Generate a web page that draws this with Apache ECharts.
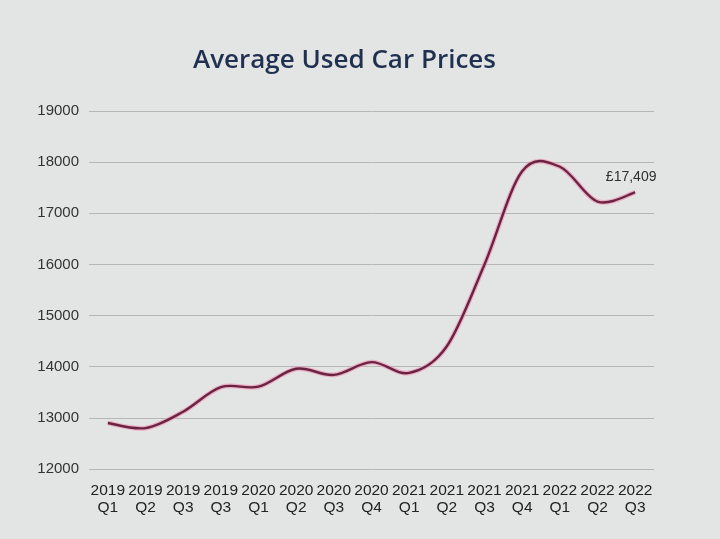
<!DOCTYPE html>
<html><head><meta charset="utf-8">
<script src="https://cdn.jsdelivr.net/npm/echarts@6/dist/echarts.min.js"></script>
<style>html,body{margin:0;padding:0;background:#e3e5e4;}#c{width:720px;height:539px;}</style>
</head><body><div id="c"></div>
<script>
const categories = ['2019\nQ1','2019\nQ2','2019\nQ3','2019\nQ3','2020\nQ1','2020\nQ2','2020\nQ3','2020\nQ4','2021\nQ1','2021\nQ2','2021\nQ3','2021\nQ4','2022\nQ1','2022\nQ2','2022\nQ3'];
const prices = [12900, 12800, 13120, 13600, 13610, 13960, 13840, 14090, 13880, 14400, 16000, 17820, 17910, 17230, 17409];
const lastLabel = '£17,409';
const yTicks = {min: 12000, max: 19000, interval: 1000};

function renderCurve(params, api) {
  if (params.dataIndex !== 0) return null;
  const pts = prices.map((v, i) => api.coord([i, v]));
  const n = pts.length;
  let d = 'M' + pts[0][0] + ',' + pts[0][1];
  for (let i = 0; i < n - 1; i++) {
    const p0 = pts[Math.max(0, i - 1)], p1 = pts[i], p2 = pts[i + 1], p3 = pts[Math.min(n - 1, i + 2)];
    const c1 = [p1[0] + (p2[0] - p0[0]) / 6, p1[1] + (p2[1] - p0[1]) / 6];
    const c2 = [p2[0] - (p3[0] - p1[0]) / 6, p2[1] - (p3[1] - p1[1]) / 6];
    d += ' C' + c1[0] + ',' + c1[1] + ' ' + c2[0] + ',' + c2[1] + ' ' + p2[0] + ',' + p2[1];
  }
  const last = pts[n - 1];
  return {type: 'group', children: [
    {type: 'path', shape: {pathData: d}, style: {fill: null, stroke: 'rgba(236,160,190,0.8)', lineWidth: 4.8}},
    {type: 'path', shape: {pathData: d}, style: {fill: null, stroke: '#6a2442', lineWidth: 2.4}},
    {type: 'text', x: last[0] - 4, y: last[1] - 15, style: {text: lastLabel, fill: '#2e2e2e', font: '14px "Liberation Sans"', align: 'center', verticalAlign: 'middle'}}
  ]};
}

const chart = echarts.init(document.getElementById('c'));
chart.setOption({
  backgroundColor: '#e3e5e4',
  title: {text: 'Average Used Car Prices', left: 188, top: 43,
    textStyle: {color: '#1f3050', fontSize: 26, fontWeight: 600, fontFamily: 'Open Sans'}},
  grid: {left: 89, right: 66, top: 111, bottom: 70},
  xAxis: {type: 'category', data: categories, boundaryGap: true,
    axisLine: {show: false}, axisTick: {show: false},
    axisLabel: {interval: 0, color: '#222', fontSize: 15.5, fontFamily: 'Liberation Sans', lineHeight: 17, margin: 13}},
  yAxis: {type: 'value', min: yTicks.min, max: yTicks.max, interval: yTicks.interval,
    axisLine: {show: false}, axisTick: {show: false},
    axisLabel: {color: '#333', fontSize: 15, fontFamily: 'Liberation Sans', margin: 10, formatter: v => String(v)},
    splitLine: {lineStyle: {color: '#b6b8b7', width: 1}}},
  series: [{type: 'custom', renderItem: renderCurve, data: prices.map((v, i) => [i, v]), encode: {x: 0, y: 1}, clip: false}]
});
</script></body></html>
